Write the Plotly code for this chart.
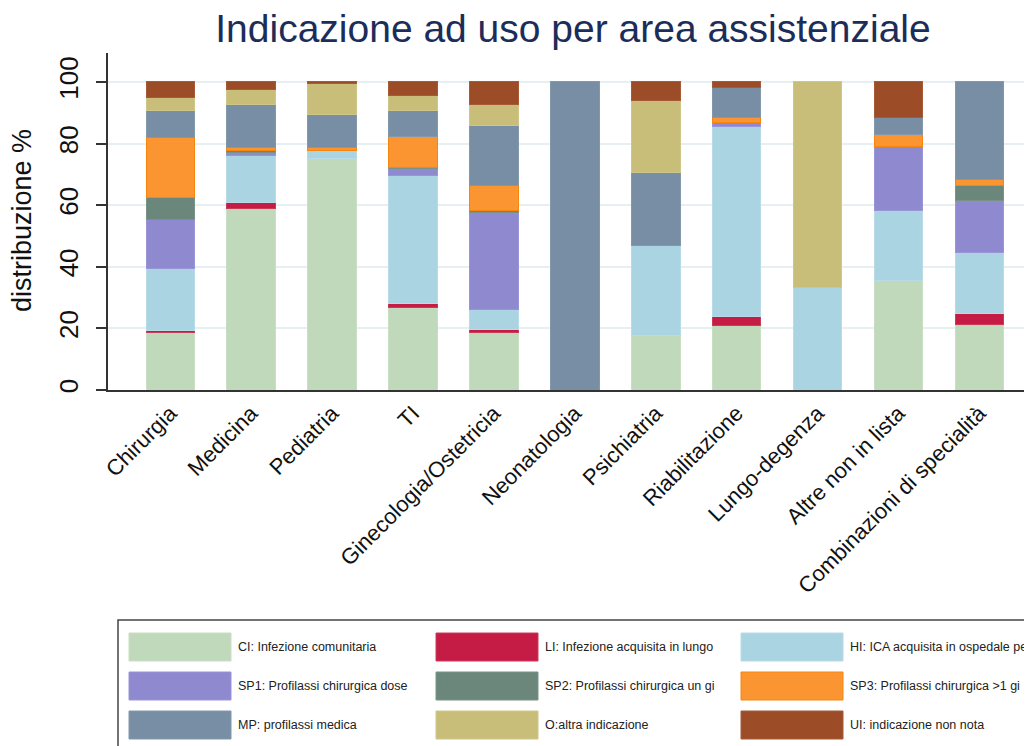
import plotly.graph_objects as go

categories = ["Chirurgia", "Medicina", "Pediatria", "TI", "Ginecologia/Ostetricia",
              "Neonatologia", "Psichiatria", "Riabilitazione", "Lungo-degenza",
              "Altre non in lista", "Combinazioni di specialità"]

series_names = ["CI: Infezione comunitaria", "LI: Infezione acquisita in lungo",
                "HI: ICA acquisita in ospedale pe", "SP1: Profilassi chirurgica dose",
                "SP2: Profilassi chirurgica un gi", "SP3: Profilassi chirurgica >1 gi",
                "MP: profilassi medica", "O:altra indicazione", "UI: indicazione non nota"]

CI  = [18.7, 58.8, 75.0, 26.8, 18.6, 0,     17.6, 20.8, 0,    35.7, 21.3]
LI  = [0.7,  2.0,  0,    1.3,  1.0,  0,     0,    3.2,  0,    0,    3.5]
HI  = [19.9, 15.3, 2.9,  41.6, 6.4,  0,     29.3, 61.5, 33.2, 22.6, 20.0]
SP1 = [16.1, 1.1,  0,    2.1,  31.6, 0,     0,    1.4,  0,    20.7, 16.7]
SP2 = [7.0,  0.7,  0,    0.4,  0.6,  0,     0,    0,    0,    0,    5.0]
SP3 = [19.5, 0.9,  0.8,  10.1, 8.1,  0,     0,    1.6,  0,    4.0,  1.7]
MP  = [8.7,  13.8, 10.6, 8.4,  19.7, 100.0, 23.6, 9.7,  0,    5.5,  31.8]
O   = [4.4,  4.8,  10.3, 4.9,  6.6,  0,     23.4, 0,    66.8, 0,    0]
UI  = [5.0,  2.6,  0.4,  4.4,  7.4,  0,     6.1,  1.8,  0,    11.5, 0]

series_values = [CI, LI, HI, SP1, SP2, SP3, MP, O, UI]
colors = ["#c0d9bb", "#c41c44", "#abd4e2", "#8f89d0", "#6b877b",
          "#fb9532", "#778ea5", "#c8be7a", "#9c4c27"]
line_colors = ["#c8dfc4", "#cc3a5a", "#b8dbe7", "#9a95d6", "#7a9389",
               "#f7860e", "#8398ad", "#cfc68a", "#a65a37"]

y_ticks = [0, 20, 40, 60, 80, 100]

fig = go.Figure()
for name, vals, c, lc in zip(series_names, series_values, colors, line_colors):
    fig.add_trace(go.Bar(
        x=categories, y=[v if v > 0 else None for v in vals], name=name,
        marker=dict(color=c, line=dict(color=lc, width=1)),
        width=0.6, showlegend=False))

# the page places the figure 8px from the top-left corner of the window
OFF = 8
FW, FH = 1032 - OFF, 746 - OFF
L, T, W, H = 108 - OFF, 53 - OFF, 924, 337

# helpers: window pixel -> paper coordinates
def px(x):
    return (x - OFF - L) / W
def py(y):
    return (T + H - (y - OFF)) / H

shapes = []
annotations = []
# legend box
shapes.append(dict(type="rect", xref="paper", yref="paper",
                   x0=px(118), x1=px(1040), y0=py(760), y1=py(620),
                   line=dict(color="#444444", width=1.5), fillcolor="white", layer="above"))
col_x = [129, 436, 741]
row_y = [633, 672, 711]
for i, (name, c, lc) in enumerate(zip(series_names, colors, line_colors)):
    r, k = divmod(i, 3)
    x0 = col_x[k]
    y0 = row_y[r]
    shapes.append(dict(type="rect", xref="paper", yref="paper",
                       x0=px(x0), x1=px(x0 + 102), y0=py(y0 + 28), y1=py(y0),
                       fillcolor=c, line=dict(color=lc, width=1), layer="above"))
    annotations.append(dict(xref="paper", yref="paper", x=px(x0 + 107), y=py(y0 + 14),
                            text=name, showarrow=False, xanchor="left", yanchor="middle",
                            font=dict(family="Liberation Sans, Arial", size=12.5, color="#222222")))

# y axis title
annotations.append(dict(xref="paper", yref="paper", x=px(22), y=py(221), text="distribuzione %",
                        textangle=-90, showarrow=False, xanchor="center", yanchor="middle",
                        font=dict(family="Liberation Sans, Arial", size=27, color="#111111")))

fig.update_layout(
    width=FW, height=FH,
    margin=dict(l=L, r=0, t=T, b=FH - T - H, pad=0, autoexpand=False),
    paper_bgcolor="white", plot_bgcolor="white",
    barmode="stack", bargap=0.4,
    font=dict(family="Liberation Sans, Arial, sans-serif", color="#111111"),
    title=dict(text="Indicazione ad uso per area assistenziale", xref="container",
               x=(573 - OFF) / FW, xanchor="center",
               y=1 - (28 - OFF) / FH, yanchor="middle", yref="container",
               font=dict(size=39, color="#1c2d5a", family="Liberation Sans, Arial")),
    xaxis=dict(type="category", range=[-0.77, 10.65], showgrid=False, automargin=False,
               showline=True, linecolor="#333333", linewidth=1.5, ticks="",
               tickangle=-45, tickfont=dict(size=22, color="#111111")),
    yaxis=dict(range=[0, 109.4], tickvals=y_ticks, showgrid=True, gridcolor="#e6f0f2",
               gridwidth=2, zeroline=False, showline=True, linecolor="#333333", linewidth=1.5,
               ticks="outside", ticklen=10, tickwidth=1.5, tickcolor="#333333", automargin=False,
               ticklabelstandoff=8,
               tickangle=-90, tickfont=dict(size=26, color="#111111")),
    shapes=shapes, annotations=annotations,
)

fig.write_html("out.html")
